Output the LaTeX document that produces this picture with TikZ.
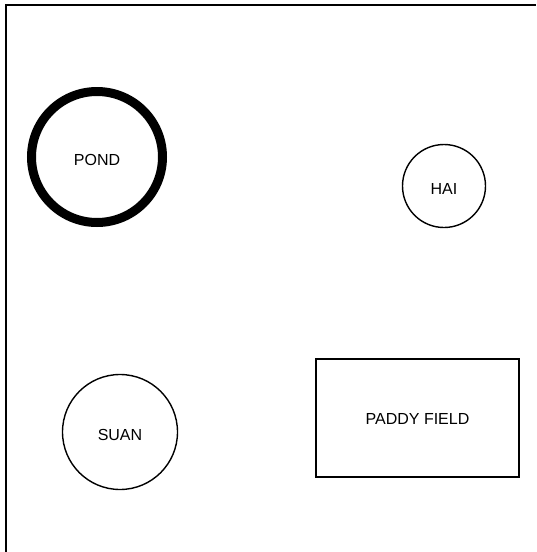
\documentclass[tikz,border=0pt]{standalone}
\usepackage{fontspec}
\setmainfont{Liberation Sans}
\usetikzlibrary{positioning}

\begin{document}
\begin{tikzpicture}[x=1pt, y=-1pt]
    \tikzset{
        site/.style={
                circle, draw=black, line width=1.4pt, inner sep=0pt,
                text height=17pt, text depth=0pt,
                font=\fontsize{16}{19}\selectfont
            },
        water/.style={
                site, line width=9pt
            },
        field/.style={
                rectangle, draw=black, line width=1.4pt, inner sep=0pt,
                text height=13pt, text depth=0pt,
                font=\fontsize{16}{19}\selectfont
            }
    }
    \useasboundingbox (0,0) rectangle (536,552);

    % frame (open at right and bottom)
    \draw[line width=1.8pt] (6,552) -- (6,5) -- (536,5);

    \node[water, minimum size=131] (pond) at (97,157) {POND};
    \node[site, minimum size=83] (hai) at (444,186) {HAI};
    \node[site, minimum size=115] (suan) at (120,432) {SUAN};
    \node[field, minimum width=203, minimum height=118] (paddy) at (417.5,418) {PADDY FIELD};
\end{tikzpicture}
\end{document}
